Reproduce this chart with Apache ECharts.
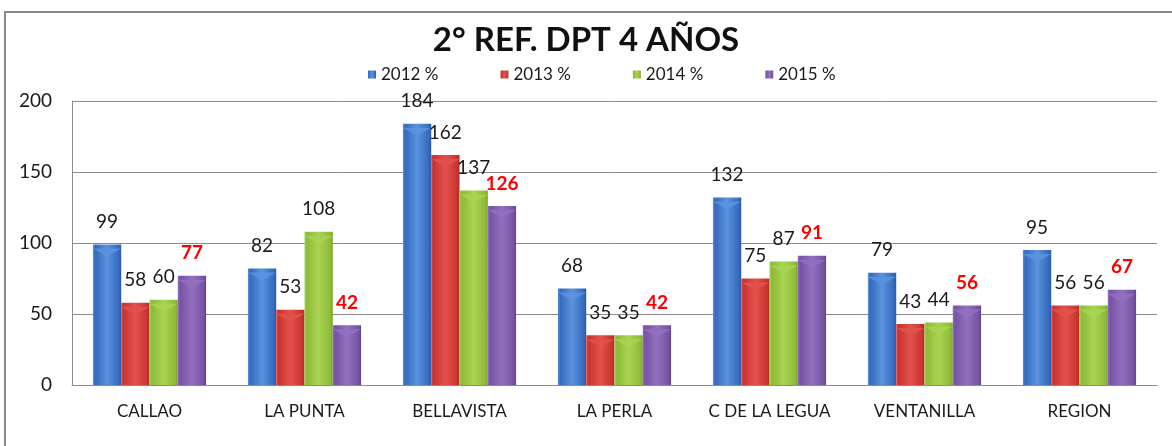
<!DOCTYPE html>
<html>
<head>
<meta charset="utf-8">
<script src="https://cdn.jsdelivr.net/npm/echarts@6/dist/echarts.min.js"></script>
<style>
  html, body { margin: 0; padding: 0; background: #ffffff; }
  #chart { width: 1172px; height: 446px; }
</style>
</head>
<body>
<div id="chart"></div>
<script>
// Districts of the Callao region
const categories = ['CALLAO', 'LA PUNTA', 'BELLAVISTA', 'LA PERLA', 'C DE LA LEGUA', 'VENTANILLA', 'REGION'];

// Coverage (%) of the 2nd DPT booster at 4 years, by year
const values2012 = [99, 82, 184, 68, 132, 79, 95];
const values2013 = [58, 53, 162, 35, 75, 43, 56];
const values2014 = [60, 108, 137, 35, 87, 44, 56];
const values2015 = [77, 42, 126, 42, 91, 56, 67];

const seriesNames = ['2012 %', '2013 %', '2014 %', '2015 %'];
const yTicks = [0, 50, 100, 150, 200];

const FONT = 'Lato, "Open Sans", sans-serif';

// edge / base / highlight shades for each year
const palette = [
  { edge: '#2a58a0', base: '#3569bd', light: '#5a93de' },
  { edge: '#a82a27', base: '#c9332f', light: '#e2524c' },
  { edge: '#769e2c', base: '#8dba38', light: '#a9d452' },
  { edge: '#5f4288', base: '#7652a3', light: '#9270bf' }
];

function barFill(p) {
  return new echarts.graphic.LinearGradient(0, 0, 1, 0, [
    { offset: 0, color: p.light },
    { offset: 0.08, color: p.base },
    { offset: 0.5, color: p.light },
    { offset: 0.92, color: p.base },
    { offset: 1, color: p.edge }
  ]);
}

const dataSets = [values2012, values2013, values2014, values2015];

const barSeries = dataSets.map((vals, i) => ({
  name: seriesNames[i],
  type: 'bar',
  data: vals,
  barGap: '0%',
  barCategoryGap: '27%',
  itemStyle: { color: barFill(palette[i]) },
  label: {
    show: true,
    position: 'top',
    distance: 13,
    fontFamily: FONT,
    fontSize: 19,
    fontWeight: i === 3 ? 'bold' : 'normal',
    color: i === 3 ? '#ff0000' : '#1a1a1a'
  },
  z: 2
}));

// bevelled caps on top of each bar
const capSeries = dataSets.map((vals, i) => ({
  name: 'cap' + i,
  type: 'pictorialBar',
  data: vals,
  barGap: '0%',
  barCategoryGap: '27%',
  symbol: 'triangle',
  symbolRotate: 180,
  symbolPosition: 'end',
  symbolSize: ['100%', 8],
  symbolOffset: [0, '50%'],
  itemStyle: { color: palette[i].light, opacity: 0.85 },
  silent: true,
  z: 3
}));

const chart = echarts.init(document.getElementById('chart'), null, { renderer: 'canvas' });

chart.setOption({
  animation: false,
  backgroundColor: '#ffffff',
  graphic: [{
    type: 'rect',
    shape: { x: 5, y: 12, width: 1200, height: 460 },
    style: { fill: 'none', stroke: '#8a8a8a', lineWidth: 2 },
    silent: true
  }],
  title: {
    text: '2° REF. DPT 4 AÑOS',
    left: 'center',
    top: 19,
    textStyle: { fontFamily: FONT, fontSize: 33, fontWeight: 'bold', color: '#111111' }
  },
  legend: {
    data: seriesNames,
    left: 363,
    top: 61,
    itemWidth: 8,
    itemHeight: 8,
    itemGap: 62,
    icon: 'rect',
    textStyle: { fontFamily: FONT, fontSize: 17, color: '#1a1a1a' }
  },
  grid: { left: 72, right: 15, top: 101, bottom: 61 },
  xAxis: {
    type: 'category',
    data: categories,
    axisTick: { show: false },
    axisLine: { lineStyle: { color: '#8c8c8c', width: 1 } },
    axisLabel: { interval: 0, fontFamily: FONT, fontSize: 17, color: '#1a1a1a', margin: 18 }
  },
  yAxis: {
    type: 'value',
    min: yTicks[0],
    max: yTicks[yTicks.length - 1],
    interval: yTicks[1] - yTicks[0],
    axisLine: { show: true, lineStyle: { color: '#8c8c8c' } },
    axisTick: { show: false },
    splitLine: { lineStyle: { color: '#8c8c8c', width: 1 } },
    axisLabel: { fontFamily: FONT, fontSize: 19, color: '#1a1a1a', margin: 20 }
  },
  series: barSeries.concat(capSeries)
});
</script>
</body>
</html>
